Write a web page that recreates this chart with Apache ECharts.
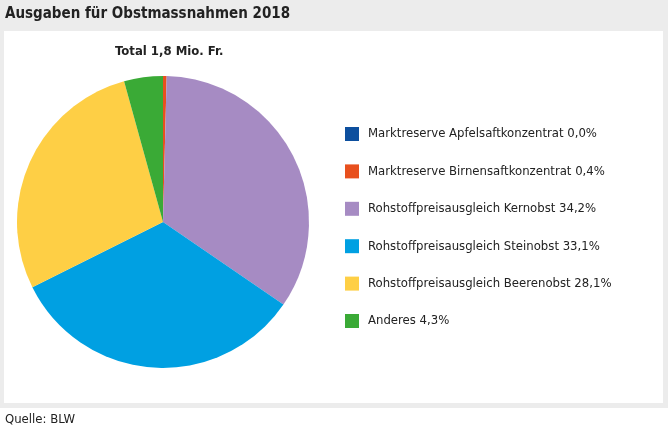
<!DOCTYPE html>
<html>
<head>
<meta charset="utf-8">
<script src="https://cdn.jsdelivr.net/npm/echarts@6/dist/echarts.min.js"></script>
<style>
  html, body { margin: 0; padding: 0; background: #fff; }
  #chart { width: 668px; height: 436px; }
</style>
</head>
<body>
<div id="chart"></div>
<script>
// data
const categories = [
  'Marktreserve Apfelsaftkonzentrat',
  'Marktreserve Birnensaftkonzentrat',
  'Rohstoffpreisausgleich Kernobst',
  'Rohstoffpreisausgleich Steinobst',
  'Rohstoffpreisausgleich Beerenobst',
  'Anderes'
]
const shares = [0.0, 0.4, 34.2, 33.1, 28.1, 4.3]
const colors = ['#0d4f9e', '#e8501e', '#a68bc3', '#00a0e2', '#fecf45', '#3aaa36']

const FONT = '"Liberation Sans Narrow", "DejaVu Sans Condensed", sans-serif'
const fmt = v => v.toFixed(1).replace('.', ',') + '%'

const chart = echarts.init(document.getElementById('chart'))

const option = {
  animation: false,
  color: colors,
  graphic: [
    { type: 'rect', z: -10, shape: { x: 0, y: 0, width: 668, height: 408 }, style: { fill: '#ececec' } },
    { type: 'rect', z: -9, shape: { x: 4, y: 31, width: 659, height: 372 }, style: { fill: '#fff' } },
    { type: 'text', left: 5, top: 7, style: { text: 'Ausgaben für Obstmassnahmen 2018', font: 'bold 15px ' + FONT, fill: '#222' } },
    { type: 'text', left: 115, top: 45, style: { text: 'Total 1,8 Mio. Fr.', font: 'bold 13px ' + FONT, fill: '#222' } },
    { type: 'text', left: 5, top: 413, style: { text: 'Quelle: BLW', font: '13px ' + FONT, fill: '#222' } }
  ],
  legend: {
    orient: 'vertical',
    left: 340,
    top: 122,
    itemWidth: 14,
    itemHeight: 14,
    itemGap: 23.4,
    icon: 'rect',
    selectedMode: false,
    formatter: name => name + ' ' + fmt(shares[categories.indexOf(name)]),
    textStyle: { fontFamily: FONT, fontSize: 13, color: '#222', padding: [0, 0, 0, 4] },
    data: categories
  },
  series: [{
    type: 'pie',
    center: [163, 222],
    radius: [0, 146],
    startAngle: 90,
    clockwise: true,
    label: { show: false },
    labelLine: { show: false },
    emphasis: { disabled: true },
    itemStyle: { borderWidth: 0 },
    data: categories.map((c, i) => ({ name: c, value: shares[i] }))
  }]
}

chart.setOption(option)
</script>
</body>
</html>
